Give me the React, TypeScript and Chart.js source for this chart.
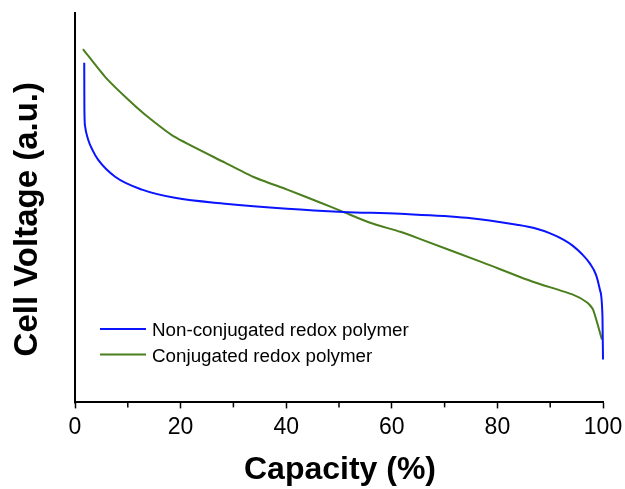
import React, { useEffect, useRef } from "react";
import { Chart, registerables } from "chart.js";

Chart.register(...registerables);

const blueCapacity = [1.75, 1.78, 1.9, 2.5, 3.3, 4.4, 7.6, 12.7, 18.9, 28.4, 40.2, 50.8, 61.6, 74.2, 83.7, 87.1, 90.0, 92.5, 94.3, 96.0, 97.5, 98.7, 99.4, 99.9, 100];
const blueVoltage = [87.0, 75.2, 70.8, 67.3, 64.7, 62.1, 57.8, 54.5, 52.4, 50.9, 49.6, 48.8, 48.3, 47.3, 45.5, 44.6, 43.3, 41.7, 40.1, 38.0, 35.6, 32.6, 28.9, 22.0, 11.0];

const greenCapacity = [1.5, 5.7, 9.5, 13.3, 18.9, 28.4, 33.7, 40.2, 46.4, 50.8, 55.9, 61.6, 65.3, 77.3, 86.7, 94.3, 97.0, 98.1, 99.8];
const greenVoltage = [90.5, 83.4, 78.3, 73.7, 68.0, 61.4, 57.8, 54.5, 51.2, 48.8, 46.0, 43.7, 41.9, 35.8, 30.9, 27.6, 25.6, 23.8, 16.1];

const majorTicks = [0, 20, 40, 60, 80, 100];
const minorTicks = [10, 30, 50, 70, 90];

const seriesLabels = ["Non-conjugated redox polymer", "Conjugated redox polymer"];
const xTitle = "Capacity (%)";
const yTitle = "Cell Voltage (a.u.)";

const BLUE = "#0a14ff";
const GREEN = "#4b7f1e";
const FONT = "'Liberation Sans', Arial, sans-serif";

const decorPlugin = {
  id: "decor",
  afterDraw(chart: any) {
    const { ctx, chartArea, scales } = chart;
    const x = scales.x;
    ctx.save();
    // y axis line
    ctx.strokeStyle = "#000";
    ctx.lineWidth = 2;
    ctx.beginPath();
    ctx.moveTo(chartArea.left, chartArea.top);
    ctx.lineTo(chartArea.left, chartArea.bottom + 1);
    ctx.stroke();
    // minor ticks
    ctx.lineWidth = 1.5;
    minorTicks.forEach((v) => {
      const px = x.getPixelForValue(v);
      ctx.beginPath();
      ctx.moveTo(px, chartArea.bottom);
      ctx.lineTo(px, chartArea.bottom + 5);
      ctx.stroke();
    });
    // x title
    ctx.fillStyle = "#000";
    ctx.font = `bold 32px ${FONT}`;
    ctx.textAlign = "center";
    ctx.textBaseline = "alphabetic";
    ctx.fillText(xTitle, (chartArea.left + chartArea.right) / 2 + 1, chartArea.bottom + 77);
    // y title
    ctx.save();
    ctx.font = `bold 33px ${FONT}`;
    ctx.translate(37, (chartArea.top + chartArea.bottom) / 2 + 12);
    ctx.rotate(-Math.PI / 2);
    ctx.fillText(yTitle, 0, 0);
    ctx.restore();
    // legend
    const colors = [BLUE, GREEN];
    ctx.font = `18.8px ${FONT}`;
    ctx.textAlign = "left";
    seriesLabels.forEach((lab, i) => {
      const ly = chartArea.top + 317 + i * 25.5;
      ctx.strokeStyle = colors[i];
      ctx.lineWidth = 2;
      ctx.beginPath();
      ctx.moveTo(chartArea.left + 25, ly);
      ctx.lineTo(chartArea.left + 71, ly);
      ctx.stroke();
      ctx.fillStyle = "#000";
      ctx.fillText(lab, chartArea.left + 77, ly + 7);
    });
    ctx.restore();
  },
};

export default function App() {
  const ref = useRef<HTMLCanvasElement | null>(null);
  useEffect(() => {
    document.body.style.margin = "0";
    const canvas = ref.current;
    if (!canvas) return;
    const chart = new Chart(canvas, {
      type: "line",
      data: {
        datasets: [
          {
            label: seriesLabels[0],
            data: blueCapacity.map((c, i) => ({ x: c, y: blueVoltage[i] })),
            borderColor: BLUE,
            borderWidth: 2,
            pointRadius: 0,
            cubicInterpolationMode: "monotone",
            fill: false,
            clip: false as any,
          },
          {
            label: seriesLabels[1],
            data: greenCapacity.map((c, i) => ({ x: c, y: greenVoltage[i] })),
            borderColor: GREEN,
            borderWidth: 2,
            pointRadius: 0,
            tension: 0.2,
            fill: false,
            clip: false as any,
          },
        ],
      },
      options: {
        responsive: false,
        animation: false,
        events: [],
        layout: { padding: { left: 75, right: 22, top: 12, bottom: 43 } },
        plugins: { legend: { display: false }, tooltip: { enabled: false } },
        scales: {
          x: {
            type: "linear",
            min: 0,
            max: 100,
            afterBuildTicks: (axis: any) => {
              axis.ticks = majorTicks.map((v) => ({ value: v }));
            },
            afterFit: (axis: any) => {
              axis.paddingLeft = 0;
              axis.paddingRight = 0;
            },
            ticks: {
              color: "#000",
              font: { family: FONT, size: 23 },
              padding: 5,
              maxRotation: 0,
              autoSkip: false,
            },
            grid: { drawOnChartArea: false, tickLength: 6, tickColor: "#000", tickWidth: 1.5 },
            border: { color: "#000", width: 2 },
          },
          y: { display: false, min: 0, max: 100 },
        },
      },
      plugins: [decorPlugin],
    });
    return () => chart.destroy();
  }, []);
  return <canvas ref={ref} width={625} height={489} />;
}
